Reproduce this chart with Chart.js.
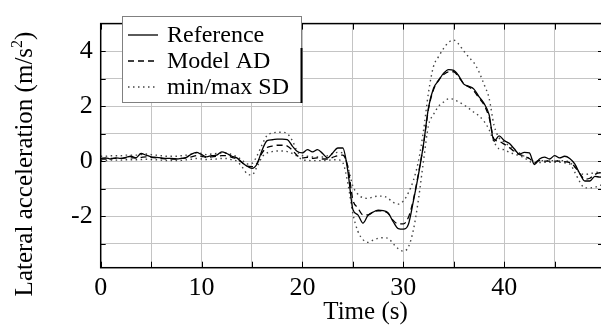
<!DOCTYPE html>
<html>
<head>
<meta charset="utf-8">
<script src="https://cdn.jsdelivr.net/npm/chart.js@4.4.0/dist/chart.umd.min.js"></script>
<style>
    html, body { margin: 0; padding: 0; background: #fff; overflow: hidden; }
    #wrap { width: 601px; height: 328px; overflow: hidden; }
    canvas { display: block; }
</style>
</head>
<body>
<div id="wrap"><canvas id="accelChart" width="606" height="328"></canvas></div>
<script>
// Time axis (s)
const timeS = [
    0, 0.5, 1, 1.5, 2, 2.5, 3, 3.5, 4, 4.5,
    5, 5.5, 6, 6.5, 7, 7.5, 8, 8.5, 9, 9.5,
    10, 10.5, 11, 11.5, 12, 12.5, 13, 13.5, 14, 14.5,
    15, 15.5, 16, 16.5, 17, 17.5, 18, 18.5, 19, 19.5,
    20, 20.5, 21, 21.5, 22, 22.5, 23, 23.5, 24, 24.5,
    25, 25.5, 26, 26.5, 27, 27.5, 28, 28.5, 29, 29.5,
    30, 30.5, 31, 31.5, 32, 32.5, 33, 33.5, 34, 34.5,
    35, 35.5, 36, 36.5, 37, 37.5, 38, 38.5, 39, 39.5,
    40, 40.5, 41, 41.5, 42, 42.5, 43, 43.5, 44, 44.5,
    45, 45.5, 46, 46.5, 47, 47.5, 48, 48.5, 49, 49.5,
    50
];

// Lateral acceleration (m/s^2)
const reference = [
    0.10, 0.12, 0.08, 0.12, 0.10, 0.14, 0.18, 0.12, 0.28, 0.22,
    0.16, 0.14, 0.12, 0.10, 0.10, 0.08, 0.10, 0.14, 0.26, 0.32,
    0.24, 0.16, 0.20, 0.22, 0.34, 0.28, 0.18, 0.12, -0.04, -0.18,
    -0.26, -0.10, 0.40, 0.75, 0.78, 0.80, 0.80, 0.78, 0.55, 0.35,
    0.30, 0.42, 0.34, 0.42, 0.28, 0.12, 0.30, 0.48, 0.48, -0.35,
    -1.75, -1.95, -2.25, -1.97, -1.85, -1.78, -1.80, -1.88, -2.20, -2.45,
    -2.47, -2.30, -1.45, -0.50, 0.60, 1.95, 2.65, 2.93, 3.20, 3.33,
    3.30, 3.10, 2.80, 2.72, 2.62, 2.35, 2.10, 1.70, 0.72, 0.92,
    0.75, 0.65, 0.45, 0.26, 0.32, 0.30, -0.12, 0.08, 0.15, 0.08,
    0.20, 0.12, 0.18, 0.10, -0.10, -0.45, -0.72, -0.72, -0.55, -0.58,
    -0.55
];
const modelAD = [
    0.08, 0.08, 0.10, 0.10, 0.10, 0.12, 0.12, 0.12, 0.14, 0.16,
    0.14, 0.12, 0.10, 0.08, 0.08, 0.08, 0.10, 0.12, 0.16, 0.20,
    0.18, 0.14, 0.16, 0.18, 0.20, 0.20, 0.14, 0.08, -0.05, -0.18,
    -0.20, -0.08, 0.30, 0.50, 0.55, 0.58, 0.58, 0.55, 0.40, 0.20,
    0.12, 0.14, 0.10, 0.12, 0.08, 0.08, 0.14, 0.20, 0.22, -0.20,
    -1.40, -1.70, -1.95, -1.95, -1.85, -1.80, -1.82, -1.90, -2.15, -2.28,
    -2.28, -2.05, -1.40, -0.45, 0.60, 1.90, 2.60, 2.95, 3.15, 3.25,
    3.25, 3.05, 2.82, 2.70, 2.55, 2.30, 2.05, 1.60, 0.80, 0.72,
    0.62, 0.50, 0.35, 0.25, 0.18, 0.10, -0.05, 0.02, 0.00, 0.00,
    0.00, 0.00, -0.02, -0.05, -0.20, -0.45, -0.65, -0.62, -0.48, -0.42,
    -0.42
];
const maxSD = [
    0.18, 0.18, 0.20, 0.20, 0.20, 0.22, 0.22, 0.22, 0.24, 0.26,
    0.24, 0.22, 0.20, 0.18, 0.18, 0.18, 0.20, 0.22, 0.26, 0.30,
    0.28, 0.24, 0.26, 0.28, 0.30, 0.30, 0.24, 0.16, 0.05, -0.10,
    -0.08, 0.20, 0.60, 0.94, 1.02, 1.05, 1.05, 1.00, 0.75, 0.35,
    0.20, 0.18, 0.15, 0.15, 0.15, 0.20, 0.28, 0.32, 0.30, -0.20,
    -0.90, -1.20, -1.33, -1.35, -1.30, -1.27, -1.27, -1.35, -1.50, -1.56,
    -1.45, -1.15, -0.70, 0.00, 1.10, 2.50, 3.45, 3.80, 4.10, 4.32,
    4.40, 4.25, 4.00, 3.78, 3.58, 3.25, 2.80, 2.30, 1.30, 0.85,
    0.70, 0.55, 0.40, 0.30, 0.18, 0.10, 0.00, 0.02, 0.02, 0.02,
    0.02, 0.02, 0.02, -0.05, -0.20, -0.42, -0.48, -0.45, -0.42, -0.38,
    -0.36
];
const minSD = [
    0.02, 0.02, 0.04, 0.04, 0.04, 0.05, 0.05, 0.05, 0.06, 0.07,
    0.06, 0.05, 0.04, 0.02, 0.02, 0.02, 0.03, 0.05, 0.07, 0.10,
    0.08, 0.06, 0.07, 0.08, 0.10, 0.10, 0.05, 0.00, -0.20, -0.45,
    -0.50, -0.20, 0.15, 0.30, 0.35, 0.37, 0.37, 0.35, 0.28, 0.18,
    0.05, 0.03, 0.02, 0.02, 0.02, 0.03, 0.05, 0.05, -0.05, -0.80,
    -1.90, -2.55, -2.85, -2.95, -2.87, -2.80, -2.78, -2.80, -3.00, -3.18,
    -3.27, -3.12, -2.50, -1.40, 0.00, 1.30, 1.70, 2.00, 2.15, 2.27,
    2.25, 2.15, 2.05, 1.92, 1.78, 1.65, 1.45, 1.15, 0.70, 0.45,
    0.42, 0.32, 0.26, 0.20, 0.12, 0.00, -0.08, -0.05, -0.04, -0.04,
    -0.04, -0.04, -0.06, -0.10, -0.40, -0.75, -0.97, -0.97, -0.95, -0.88,
    -0.85
];

// Axis ticks
const xGrid = [0, 5, 10, 15, 20, 25, 30, 35, 40, 45];
const xLabels = [0, 10, 20, 30, 40];
const yGrid = [-3, -2, -1, 0, 1, 2, 3, 4];
const yLabels = [-2, 0, 2, 4];

const serif = '"Liberation Serif", "Times New Roman", serif';

function toPoints(values) {
    return values.map((v, i) => ({ x: timeS[i], y: v }));
}

// Frame with inward ticks, inset legend and axis titles
const decorPlugin = {
    id: 'decor',
    afterDraw(chart) {
        const ctx = chart.ctx;
        const a = chart.chartArea;
        const xs = chart.scales.x;
        const ys = chart.scales.y;
        ctx.save();

        // inward tick marks
        ctx.strokeStyle = '#000';
        ctx.lineWidth = 1;
        ctx.beginPath();
        xGrid.forEach(v => {
            const px = Math.round(xs.getPixelForValue(v)) + 0.5;
            ctx.moveTo(px, a.bottom); ctx.lineTo(px, a.bottom - 6);
            ctx.moveTo(px, a.top); ctx.lineTo(px, a.top + 6);
        });
        yGrid.forEach(v => {
            const py = Math.round(ys.getPixelForValue(v)) + 0.5;
            ctx.moveTo(a.left, py); ctx.lineTo(a.left + 5, py);
            ctx.moveTo(a.right, py); ctx.lineTo(a.right - 5, py);
        });
        ctx.stroke();

        // frame
        ctx.lineWidth = 1.5;
        ctx.strokeRect(a.left, a.top, a.right - a.left, a.bottom - a.top);

        // legend box
        ctx.fillStyle = '#fff';
        ctx.fillRect(122, 16, 180, 87);
        ctx.strokeStyle = '#808080';
        ctx.lineWidth = 1;
        ctx.strokeRect(122.5, 16.5, 179, 86);
        ctx.strokeStyle = '#000';
        ctx.lineWidth = 2;
        ctx.beginPath();
        ctx.moveTo(301.5, 48); ctx.lineTo(301.5, 103);
        ctx.stroke();

        const rows = [35, 61, 87];
        ctx.font = '24px ' + serif;
        ctx.textBaseline = 'middle';
        ctx.textAlign = 'left';
        chart.data.datasets.slice(0, 3).forEach((ds, i) => {
            ctx.strokeStyle = ds.borderColor;
            ctx.lineWidth = ds.borderWidth;
            ctx.setLineDash(ds.borderDash || []);
            ctx.beginPath();
            ctx.moveTo(128, rows[i]); ctx.lineTo(158, rows[i]);
            ctx.stroke();
            ctx.setLineDash([]);
            ctx.fillStyle = '#000';
            ctx.fillText(ds.label, 167, rows[i] + 1);
        });

        // x axis title
        ctx.fillStyle = '#000';
        ctx.font = '25px ' + serif;
        ctx.textAlign = 'center';
        ctx.fillText('Time (s)', 365.5, 312);

        // y axis title with superscript
        ctx.save();
        ctx.translate(25, 164);
        ctx.rotate(-Math.PI / 2);
        const main = 'Lateral acceleration (m/s';
        ctx.font = '25px ' + serif;
        const w1 = ctx.measureText(main).width;
        const w3 = ctx.measureText(')').width;
        ctx.font = '16px ' + serif;
        const w2 = ctx.measureText('2').width;
        let x0 = -(w1 + w2 + w3) / 2;
        ctx.textAlign = 'left';
        ctx.font = '25px ' + serif;
        ctx.fillText(main, x0, 0);
        ctx.font = '16px ' + serif;
        ctx.fillText('2', x0 + w1, -7);
        ctx.font = '25px ' + serif;
        ctx.fillText(')', x0 + w1 + w2, 0);
        ctx.restore();

        ctx.restore();
    }
};

const accelCtx = document.getElementById('accelChart').getContext('2d');
const accelChart = new Chart(accelCtx, {
    type: 'line',
    data: {
        datasets: [{
            label: 'Reference',
            data: toPoints(reference),
            borderColor: '#000',
            borderWidth: 1.3
        }, {
            label: 'Model AD',
            data: toPoints(modelAD),
            borderColor: '#000',
            borderWidth: 1.3,
            borderDash: [6, 4]
        }, {
            label: 'min/max SD',
            data: toPoints(maxSD),
            borderColor: '#444',
            borderWidth: 1.4,
            borderDash: [1.5, 3.5]
        }, {
            label: 'min SD',
            data: toPoints(minSD),
            borderColor: '#444',
            borderWidth: 1.4,
            borderDash: [1.5, 3.5]
        }]
    },
    options: {
        responsive: false,
        animation: false,
        layout: { padding: { top: 8.7, right: 3, left: 0, bottom: 0 } },
        elements: {
            point: { radius: 0 },
            line: { cubicInterpolationMode: 'monotone', fill: false }
        },
        plugins: {
            legend: { display: false },
            tooltip: { enabled: false }
        },
        scales: {
            x: {
                type: 'linear',
                min: 0,
                max: 49.8,
                afterBuildTicks: s => { s.ticks = xGrid.map(v => ({ value: v })); },
                afterFit: s => { s.height = 60.3; },
                grid: { color: '#c4c4c4', drawTicks: false },
                border: { display: false },
                ticks: {
                    padding: 5,
                    color: '#000',
                    autoSkip: false,
                    maxRotation: 0,
                    font: { family: serif, size: 26 },
                    callback: v => xLabels.includes(v) ? String(v) : ''
                }
            },
            y: {
                min: -3.87,
                max: 5,
                afterBuildTicks: s => { s.ticks = yGrid.map(v => ({ value: v })); },
                afterFit: s => { s.width = 100.7; },
                grid: { color: '#c4c4c4', drawTicks: false },
                border: { display: false },
                ticks: {
                    padding: 8,
                    color: '#000',
                    autoSkip: false,
                    font: { family: serif, size: 26 },
                    callback: v => yLabels.includes(v) ? String(v) : ''
                }
            }
        }
    },
    plugins: [decorPlugin]
});
</script>
</body>
</html>
